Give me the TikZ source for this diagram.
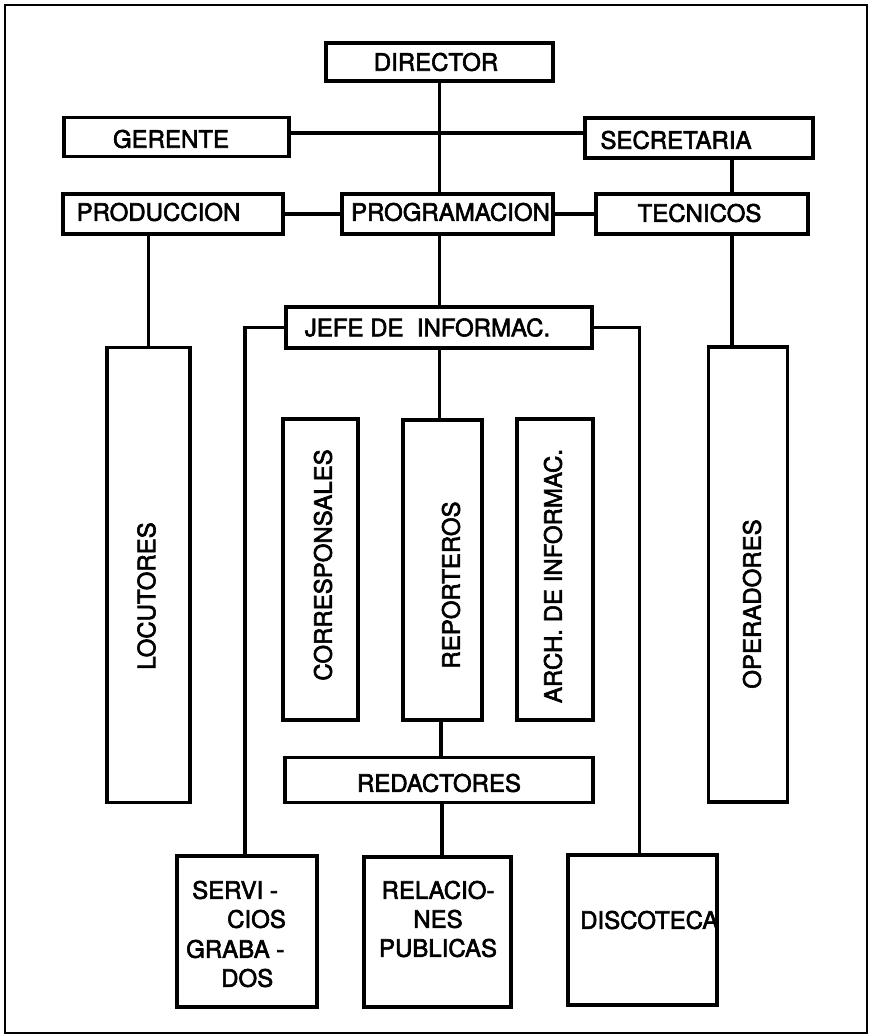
\documentclass[tikz,border=0pt]{standalone}
\usepackage{fontspec}
\setmainfont{TeX Gyre Heros}
\newfontfamily\heavy[FakeBold=2.5]{TeX Gyre Heros}
\begin{document}
\begin{tikzpicture}[x=1pt,y=-1pt,
  box/.style={draw, line width=3.2pt, inner sep=0pt, minimum width=#1},
  lbl/.style={inner sep=0pt, font=\heavy\fontsize{24}{29}\selectfont},
  vlbl/.style={lbl, rotate=90},
  conn/.style={line width=3.2pt},
  frame/.style={line width=2.4pt}]
\useasboundingbox (0,0) rectangle (872,1036);
\draw[frame] (5,5) rectangle (867,1033);
% boxes
\node[box=227, minimum height=38] (dir) at (439.5,62) {};
\node[box=225, minimum height=39] (ger) at (176.5,137) {};
\node[box=228, minimum height=40] (sec) at (699,138) {};
\node[box=220, minimum height=40] (prod) at (173,214) {};
\node[box=211, minimum height=40] (prog) at (447.5,214) {};
\node[box=212, minimum height=40] (tec) at (702,214) {};
\node[box=306, minimum height=41] (jefe) at (439,327.5) {};
\node[box=83, minimum height=455] (loc) at (148.5,575) {};
\node[box=79, minimum height=455] (ope) at (748,574.5) {};
\node[box=75, minimum height=301] (cor) at (320.5,569.5) {};
\node[box=79, minimum height=300] (rep) at (442.5,570) {};
\node[box=76, minimum height=301] (arch) at (555,569.5) {};
\node[box=308, minimum height=45] (red) at (439,780) {};
\node[box=140, minimum height=151] (serv) at (247,931.5) {};
\node[box=147, minimum height=150] (rel) at (437.5,932) {};
\node[box=149, minimum height=150] (disc) at (642.5,930) {};
% texts
\node[lbl] (dirT) at (436,62) {DIRECTOR};
\node[lbl] (gerT) at (171,139) {GERENTE};
\node[lbl] (secT) at (676,140) {SECRETARIA};
\node[lbl] (prodT) at (158.5,212) {PRODUCCION};
\node[lbl] (progT) at (450.5,212) {PROGRAMACION};
\node[lbl] (tecT) at (699.5,213) {TECNICOS};
\node[lbl] (jefeT) at (427.5,327.5) {JEFE DE\ \ INFORMAC.};
\node[vlbl] (locT) at (146.5,596) {LOCUTORES};
\node[vlbl] (corT) at (323,565) {CORRESPONSALES};
\node[vlbl] (repT) at (451,585) {REPORTEROS};
\node[vlbl] (archT) at (553,576) {ARCH. DE INFORMAC.};
\node[vlbl] (opeT) at (752,604) {OPERADORES};
\node[lbl] (redT) at (439,783) {REDACTORES};
\node[lbl, anchor=west] (servT1) at (192,890) {SERVI -};
\node[lbl, anchor=west] (servT2) at (227,919) {CIOS};
\node[lbl, anchor=west] (servT3) at (186,949) {GRABA -};
\node[lbl, anchor=west] (servT4) at (221,978) {DOS};
\node[lbl, align=center] (relT) at (438,919) {RELACIO-\\NES\\PUBLICAS};
\node[lbl, anchor=west] (discT) at (580,920) {DISCOTECA};
% connectors
\draw[conn] (dir.south) -- (dir.south |- prog.north);
\draw[conn] ([yshift=4pt]ger.east) -- ([yshift=4pt]ger.east -| sec.west);
\draw[conn] (prod.north -| loc.north) -- (prod.north -| loc.north |- ger.south);
\draw[conn] ([xshift=33pt]sec.south) -- ([xshift=33pt]sec.south |- tec.north);
\draw[conn] (prod.east) -- (prog.west);
\draw[conn] (prog.east) -- (tec.west);
\draw[conn] (dir.south |- prog.south) -- (dir.south |- jefe.north);
\draw[conn] (loc.north |- prod.south) -- (loc.north);
\draw[conn] ([xshift=33pt]sec.south |- tec.south) -- ([xshift=33pt]sec.south |- ope.north);
\draw[conn] (jefe.west) -| ([xshift=-2pt]serv.north);
\draw[conn] (jefe.east) -| ([xshift=-3pt]disc.north);
\draw[conn] (dir.south |- jefe.south) -- (dir.south |- rep.north);
\draw[conn] ([xshift=-1.5pt]rep.south) -- ([xshift=-1.5pt]rep.south |- red.north);
\draw[conn] ([xshift=3pt]red.south) -- ([xshift=3pt]red.south |- rel.north);
\end{tikzpicture}
\end{document}
